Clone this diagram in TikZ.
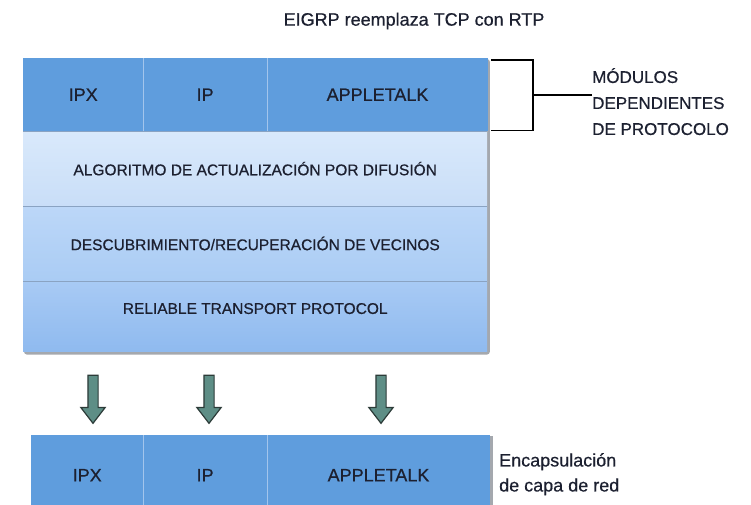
\documentclass[tikz,border=0pt]{standalone}
\usepackage{fontspec}
\setmainfont[FakeBold=0.6]{Liberation Sans}
\usetikzlibrary{positioning,calc,shapes.arrows,backgrounds}

\definecolor{modblue}{HTML}{5F9DDD}
\definecolor{modline}{HTML}{A3C5EC}
\definecolor{rowline}{HTML}{8AA3C2}
\definecolor{txtdark}{HTML}{1C2030}
\definecolor{arrfill}{HTML}{5E8E86}
\definecolor{arrline}{HTML}{2C3B38}
\definecolor{shadegray}{HTML}{A4A8AE}
\definecolor{algtop}{HTML}{D9E9FB}
\definecolor{algbot}{HTML}{C9DEF8}
\definecolor{vectop}{HTML}{BCD7F8}
\definecolor{vecbot}{HTML}{AACCF4}
\definecolor{rtptop}{HTML}{A8CAF4}
\definecolor{rtpbot}{HTML}{8FBAEF}

\tikzset{
  modcell/.style={fill=modblue, inner sep=0pt, minimum height=73pt, text=txtdark,
    font=\fontsize{18}{18}\selectfont},
  layer/.style={inner sep=0pt, minimum width=464pt, text=txtdark,
    font=\fontsize{15.5}{15.5}\selectfont, anchor=north west},
  downarrow/.style={single arrow, shape border rotate=270, draw=arrline, fill=arrfill,
    line width=1.2pt, inner sep=4.5pt, minimum height=48pt,
    single arrow head extend=7pt, single arrow tip angle=75},
  bracket/.style={line width=1.5pt, black},
  sidenote/.style={inner sep=0pt, align=left, anchor=north west, text=txtdark}
}

\begin{document}
\begin{tikzpicture}[x=1pt,y=-1pt]
\useasboundingbox (0,0) rectangle (751,504);

\node[font=\fontsize{18}{18}\selectfont, text=txtdark] (title) at (414,21) {EIGRP reemplaza TCP con RTP};

% protocol dependent modules
\node[modcell, minimum width=120pt, anchor=north west] (ipx) at (23,58) {IPX};
\node[modcell, minimum width=123pt, right=0pt of ipx] (ip) {IP};
\node[modcell, minimum width=221pt, right=0pt of ip] (atalk) {APPLETALK};

% EIGRP layers
\node[layer, minimum height=74pt, top color=algtop, bottom color=algbot]
  (alg) at (ipx.south west) {ALGORITMO DE ACTUALIZACIÓN POR DIFUSIÓN};
\node[layer, minimum height=75pt, top color=vectop, bottom color=vecbot]
  (vec) at (alg.south west) {DESCUBRIMIENTO/RECUPERACIÓN DE VECINOS};
\node[layer, text height=32.5pt, text depth=37.5pt, top color=rtptop, bottom color=rtpbot]
  (rtp) at (vec.south west) {RELIABLE TRANSPORT PROTOCOL};

\draw[modline] (ipx.north east) -- (ipx.south east);
\draw[modline] (ip.north east) -- (ip.south east);
\draw[rowline] (alg.north west) -- (alg.north east);
\draw[rowline] (vec.north west) -- (vec.north east);
\draw[rowline] (rtp.north west) -- (rtp.north east);

\begin{scope}[on background layer]
\fill[shadegray, rounded corners=3pt] ($(ipx.north west)+(1,1)$) rectangle ($(rtp.south east)+(2.5,3)$);
\end{scope}

% bracket
\node[sidenote, font=\fontsize{17}{26}\selectfont] (mod) at (592,68) {MÓDULOS\\DEPENDIENTES\\DE PROTOCOLO};
\coordinate (bt) at ($(atalk.north east)+(3,2)$);
\coordinate (bb) at ($(atalk.south east)+(3,-1)$);
\coordinate (bmid) at (533,95);
\draw[bracket] (bt) -| (bmid) |- (bb);
\draw[bracket] (bmid) -- (bmid -| mod.west);

% arrows
\node[downarrow] (a1) at (93,396) {};
\node[downarrow] (a2) at (209,396) {};
\node[downarrow] (a3) at (381,396) {};

% network layer
\node[modcell, minimum width=112pt, minimum height=80pt, anchor=north west] (ipxb) at (31,435) {IPX};
\node[modcell, minimum width=123pt, minimum height=80pt, right=0pt of ipxb] (ipb) {IP};
\node[modcell, minimum width=223pt, minimum height=80pt, right=0pt of ipb] (atalkb) {APPLETALK};
\draw[modline] (ipxb.north east) -- (ipxb.south east);
\draw[modline] (ipb.north east) -- (ipb.south east);
\begin{scope}[on background layer]
\fill[shadegray] ($(ipxb.north west)+(1,1)$) rectangle ($(atalkb.south east)+(2.5,0)$);
\end{scope}

\node[sidenote, font=\fontsize{18}{25}\selectfont] (enc) at (499,453) {Encapsulación\\de capa de red};
\end{tikzpicture}
\end{document}
